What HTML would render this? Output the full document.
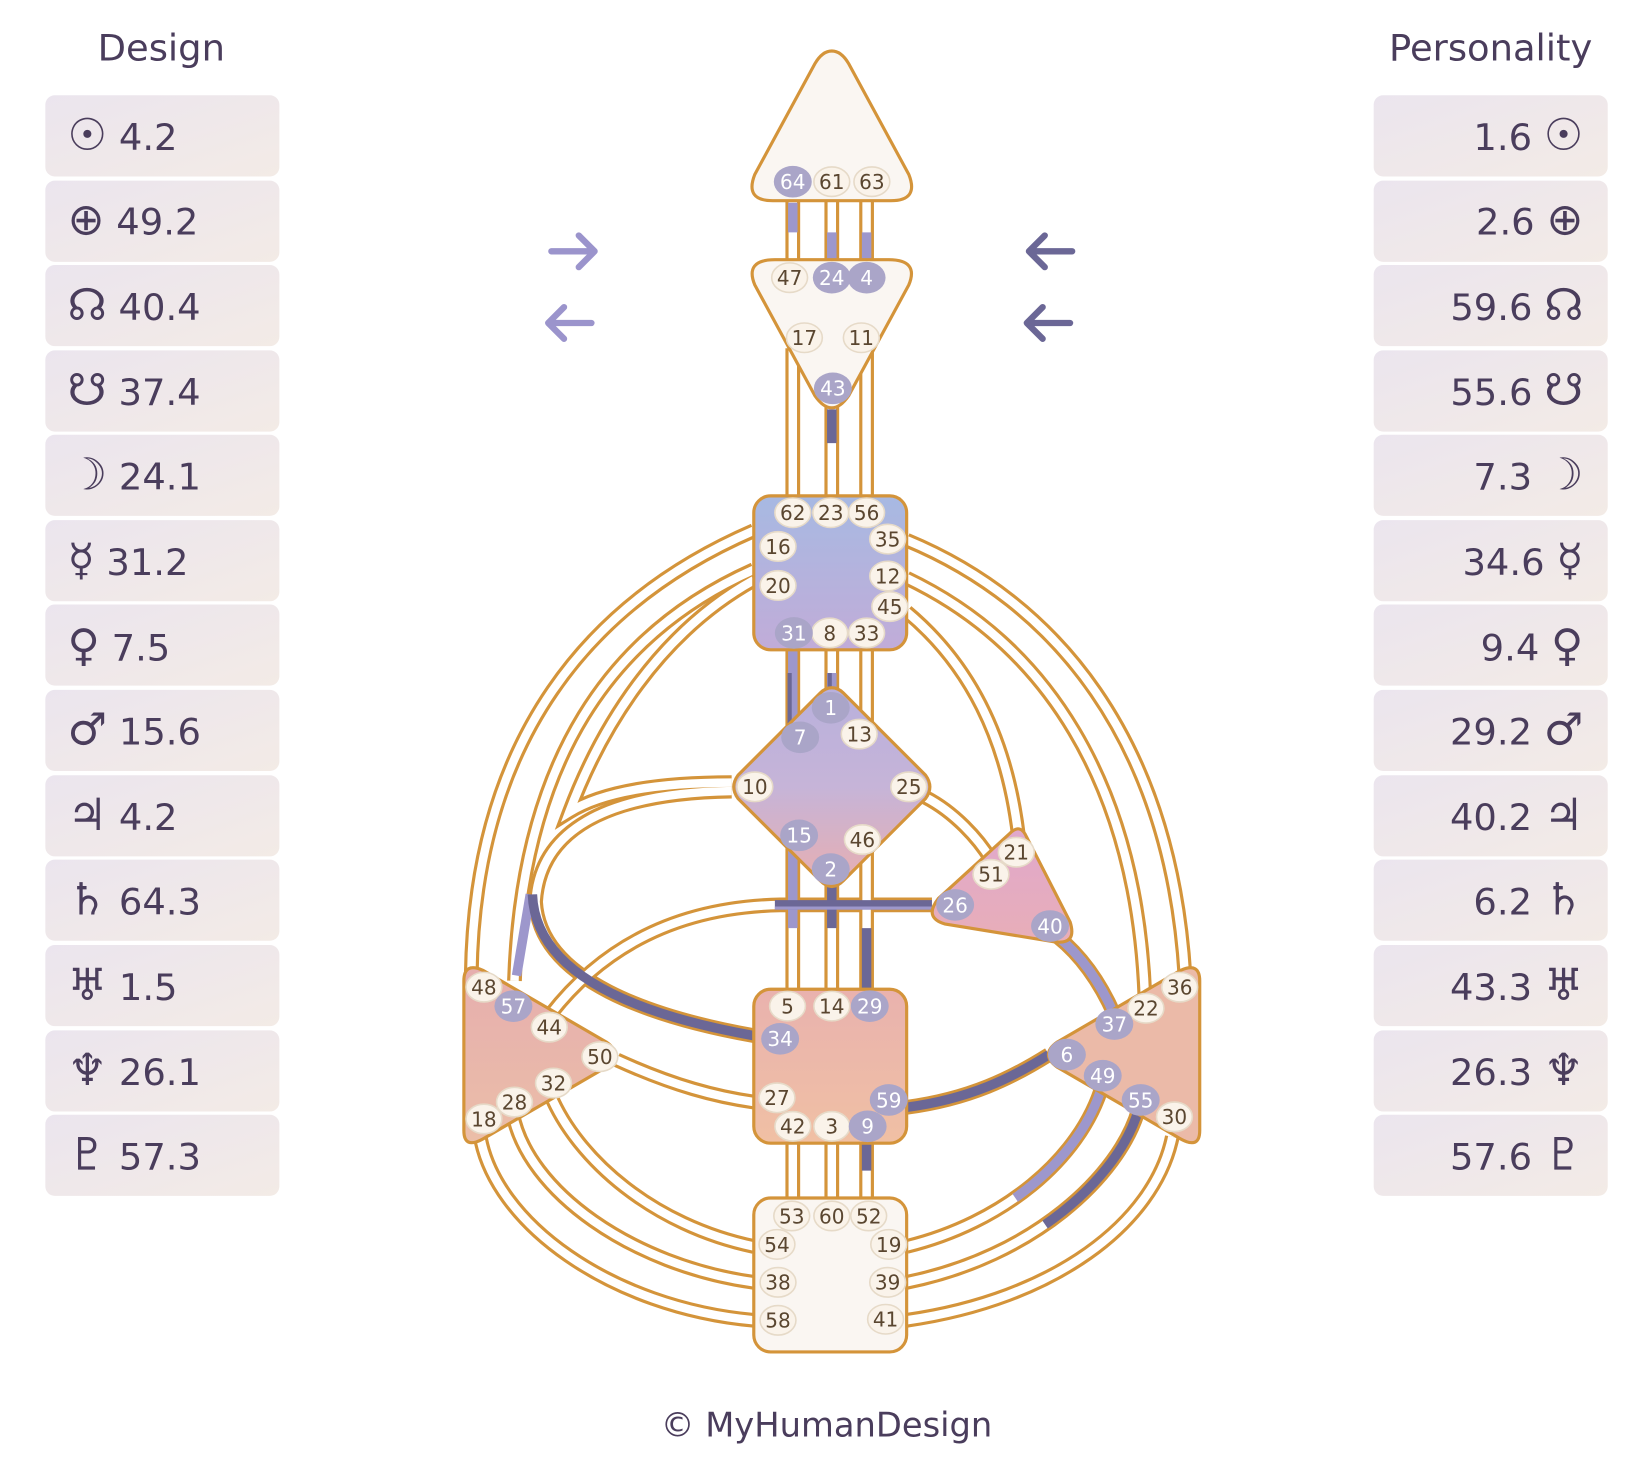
<!DOCTYPE html>
<html><head><meta charset="utf-8"><style>
html,body{margin:0;padding:0;background:#fff}
svg{display:block}
text{font-family:"DejaVu Sans","Liberation Sans",sans-serif}
.s{font-size:42px}
</style></head><body>
<svg width="1652" height="1463" viewBox="0 0 1567 1387" xmlns="http://www.w3.org/2000/svg">
<defs>
<linearGradient id="box" x1="0" y1="0" x2="1" y2="1"><stop offset="0" stop-color="#ebe5ee"/><stop offset="1" stop-color="#f3ebe6"/></linearGradient>
<linearGradient id="thr" x1="0" y1="0" x2="0" y2="1"><stop offset="0" stop-color="#a7b9e2"/><stop offset="1" stop-color="#c1acd8"/></linearGradient>
<linearGradient id="gc" x1="0" y1="0" x2="0" y2="1"><stop offset="0" stop-color="#b8b0dc"/><stop offset="0.5" stop-color="#c6b4d8"/><stop offset="1" stop-color="#e8aeb0"/></linearGradient>
<linearGradient id="sac" x1="0" y1="0" x2="0" y2="1"><stop offset="0" stop-color="#e9b2ae"/><stop offset="1" stop-color="#f0c0a4"/></linearGradient>
<linearGradient id="spl" x1="0" y1="0" x2="0" y2="1"><stop offset="0" stop-color="#e6aeae"/><stop offset="1" stop-color="#ebbea8"/></linearGradient>
<linearGradient id="hrt" x1="0" y1="0" x2="0" y2="1"><stop offset="0" stop-color="#e0a8cc"/><stop offset="1" stop-color="#e8aeb8"/></linearGradient>
</defs>

<text x="153" y="57" font-size="35" fill="#4a3d5c" text-anchor="middle">Design</text>
<text x="1414" y="57" font-size="35" fill="#4a3d5c" text-anchor="middle">Personality</text>

<g fill="url(#box)">
<rect x="43" y="90" width="222" height="77" rx="9"/><rect x="43" y="171" width="222" height="77" rx="9"/><rect x="43" y="251" width="222" height="77" rx="9"/><rect x="43" y="332" width="222" height="77" rx="9"/><rect x="43" y="412" width="222" height="77" rx="9"/><rect x="43" y="493" width="222" height="77" rx="9"/><rect x="43" y="573" width="222" height="77" rx="9"/><rect x="43" y="654" width="222" height="77" rx="9"/><rect x="43" y="735" width="222" height="77" rx="9"/><rect x="43" y="815" width="222" height="77" rx="9"/><rect x="43" y="896" width="222" height="77" rx="9"/><rect x="43" y="977" width="222" height="77" rx="9"/><rect x="43" y="1057" width="222" height="77" rx="9"/>
<rect x="1303" y="90" width="222" height="77" rx="9"/><rect x="1303" y="171" width="222" height="77" rx="9"/><rect x="1303" y="251" width="222" height="77" rx="9"/><rect x="1303" y="332" width="222" height="77" rx="9"/><rect x="1303" y="412" width="222" height="77" rx="9"/><rect x="1303" y="493" width="222" height="77" rx="9"/><rect x="1303" y="573" width="222" height="77" rx="9"/><rect x="1303" y="654" width="222" height="77" rx="9"/><rect x="1303" y="735" width="222" height="77" rx="9"/><rect x="1303" y="815" width="222" height="77" rx="9"/><rect x="1303" y="896" width="222" height="77" rx="9"/><rect x="1303" y="977" width="222" height="77" rx="9"/><rect x="1303" y="1057" width="222" height="77" rx="9"/>
</g>
<g font-size="35" fill="#4a3d5c">
<text x="64" y="142"><tspan class="s">☉</tspan> 4.2</text>
<text x="64" y="222"><tspan class="s">⊕</tspan> 49.2</text>
<text x="64" y="303"><tspan class="s">☊</tspan> 40.4</text>
<text x="64" y="384"><tspan class="s">☋</tspan> 37.4</text>
<text x="64" y="464"><tspan class="s">☽</tspan> 24.1</text>
<text x="64" y="545"><tspan class="s">☿</tspan> 31.2</text>
<text x="64" y="626"><tspan class="s">♀</tspan> 7.5</text>
<text x="64" y="706"><tspan class="s">♂</tspan> 15.6</text>
<text x="64" y="787"><tspan class="s">♃</tspan> 4.2</text>
<text x="64" y="867"><tspan class="s">♄</tspan> 64.3</text>
<text x="64" y="948"><tspan class="s">♅</tspan> 1.5</text>
<text x="64" y="1029"><tspan class="s">♆</tspan> 26.1</text>
<text x="64" y="1109"><tspan class="s">♇</tspan> 57.3</text>
</g>
<g font-size="35" fill="#4a3d5c" text-anchor="end">
<text x="1502" y="142">1.6 <tspan class="s">☉</tspan></text>
<text x="1502" y="222">2.6 <tspan class="s">⊕</tspan></text>
<text x="1502" y="303">59.6 <tspan class="s">☊</tspan></text>
<text x="1502" y="384">55.6 <tspan class="s">☋</tspan></text>
<text x="1502" y="464">7.3 <tspan class="s">☽</tspan></text>
<text x="1502" y="545">34.6 <tspan class="s">☿</tspan></text>
<text x="1502" y="626">9.4 <tspan class="s">♀</tspan></text>
<text x="1502" y="706">29.2 <tspan class="s">♂</tspan></text>
<text x="1502" y="787">40.2 <tspan class="s">♃</tspan></text>
<text x="1502" y="867">6.2 <tspan class="s">♄</tspan></text>
<text x="1502" y="948">43.3 <tspan class="s">♅</tspan></text>
<text x="1502" y="1029">26.3 <tspan class="s">♆</tspan></text>
<text x="1502" y="1109">57.6 <tspan class="s">♇</tspan></text>
</g>

<g fill="none" stroke-width="6" stroke-linecap="round" stroke-linejoin="round">
<path d="M523,238 H563 M549,223 L564,238 L549,253" stroke="#9b94cc"/>
<path d="M561,306 H521 M535,291 L520,306 L535,321" stroke="#9b94cc"/>
<path d="M1017,238 H977 M991,223 L976,238 L991,253" stroke="#6b6796"/>
<path d="M1015,306 H975 M989,291 L974,306 L989,321" stroke="#6b6796"/>
</g>

<g fill="none" stroke="#d4943a" stroke-width="14">
<path d="M752,190 V250"/><path d="M789,190 V250"/><path d="M822,190 V250"/>
<path d="M752,330 V472"/><path d="M789,380 V472"/><path d="M822,330 V472"/>
<path d="M752,614 V700"/><path d="M789,614 V660"/><path d="M822,614 V700"/>
<path d="M752,800 V940"/><path d="M789,830 V940"/><path d="M822,800 V940"/>
<path d="M752,1082 V1138"/><path d="M789,1082 V1138"/><path d="M822,1082 V1138"/>
<path d="M715,503 C560,570 450,700 447,925"/>
<path d="M715,540 C580,600 495,720 488,930"/>
<path d="M715,550 C625,600 570,690 540,770 Q585,742 694,742"/>
<path d="M694,750 C570,752 512,790 508,855 C512,930 620,965 715,982"/>
<path d="M884,858 L740,858 C640,860 570,900 522,962"/>
<path d="M585,1005 C640,1030 680,1040 715,1045"/>
<path d="M860,512 C1000,570 1110,700 1124,925"/>
<path d="M860,548 C990,610 1078,740 1086,945"/>
<path d="M860,580 C920,630 955,700 966,792"/>
<path d="M878,756 C905,770 928,795 940,815"/>
<path d="M1003,888 C1028,908 1045,935 1057,962"/>
<path d="M860,1050 C920,1042 960,1022 995,1000"/>
<path d="M860,1182 C950,1160 1025,1100 1046,1028"/>
<path d="M860,1216 C980,1192 1062,1115 1080,1052"/>
<path d="M860,1252 C1000,1232 1095,1160 1112,1078"/>
<path d="M715,1182 C620,1162 548,1100 522,1038"/>
<path d="M715,1216 C600,1200 500,1130 486,1055"/>
<path d="M715,1252 C580,1240 468,1160 455,1075"/>
</g>
<g fill="none" stroke="#fff" stroke-width="8">
<path d="M752,190 V250"/><path d="M789,190 V250"/><path d="M822,190 V250"/>
<path d="M752,330 V472"/><path d="M789,380 V472"/><path d="M822,330 V472"/>
<path d="M752,614 V700"/><path d="M789,614 V660"/><path d="M822,614 V700"/>
<path d="M752,800 V940"/><path d="M789,830 V940"/><path d="M822,800 V940"/>
<path d="M752,1082 V1138"/><path d="M789,1082 V1138"/><path d="M822,1082 V1138"/>
<path d="M715,503 C560,570 450,700 447,925"/>
<path d="M715,540 C580,600 495,720 488,930"/>
<path d="M715,550 C625,600 570,690 540,770 Q585,742 694,742"/>
<path d="M694,750 C570,752 512,790 508,855 C512,930 620,965 715,982"/>
<path d="M884,858 L740,858 C640,860 570,900 522,962"/>
<path d="M585,1005 C640,1030 680,1040 715,1045"/>
<path d="M860,512 C1000,570 1110,700 1124,925"/>
<path d="M860,548 C990,610 1078,740 1086,945"/>
<path d="M860,580 C920,630 955,700 966,792"/>
<path d="M878,756 C905,770 928,795 940,815"/>
<path d="M1003,888 C1028,908 1045,935 1057,962"/>
<path d="M860,1050 C920,1042 960,1022 995,1000"/>
<path d="M860,1182 C950,1160 1025,1100 1046,1028"/>
<path d="M860,1216 C980,1192 1062,1115 1080,1052"/>
<path d="M860,1252 C1000,1232 1095,1160 1112,1078"/>
<path d="M715,1182 C620,1162 548,1100 522,1038"/>
<path d="M715,1216 C600,1200 500,1130 486,1055"/>
<path d="M715,1252 C580,1240 468,1160 455,1075"/>
</g>
<g fill="none" stroke-width="9">
<path d="M752,192 V220" stroke="#9d97cc"/>
<path d="M789,220 V248" stroke="#9d97cc"/>
<path d="M822,220 V248" stroke="#9d97cc"/>
<path d="M789,388 V420" stroke="#6b6796"/>
<path d="M752,616 V700" stroke="#9d97cc"/>
<path d="M749,638 V690" stroke="#6b6796" stroke-width="4"/>
<path d="M789,638 V660" stroke="#9d97cc"/>
<path d="M787,638 V660" stroke="#6b6796" stroke-width="4"/>
<path d="M752,800 V880" stroke="#9d97cc"/>
<path d="M789,840 V880" stroke="#6b6796"/>
<path d="M822,880 V938" stroke="#6b6796"/>
<path d="M822,1084 V1110" stroke="#6b6796"/>
<path d="M503,848 L490,925" stroke="#9d97cc"/>
<path d="M505,848 C508,930 620,965 715,982" stroke="#6b6796"/>
<path d="M884,858 L735,858" stroke="#6b6796"/>
<path d="M884,861 L735,861" stroke="#9d97cc" stroke-width="3"/>
<path d="M1003,888 C1028,908 1045,935 1057,962" stroke="#9d97cc"/>
<path d="M860,1050 C920,1042 960,1022 995,1000" stroke="#6b6796"/>
<path d="M860,1182 C950,1160 1025,1100 1046,1028" stroke="#9d97cc" pathLength="100" stroke-dasharray="0 45 55"/>
<path d="M860,1216 C980,1192 1062,1115 1080,1052" stroke="#6b6796" pathLength="100" stroke-dasharray="0 50 50"/>
</g>

<g stroke="#d4943a" stroke-width="3" stroke-linejoin="round">
<path d="M789,48 Q798,48 805,60 L862,165 Q872,190 845,190 L733,190 Q706,190 716,165 L773,60 Q780,48 789,48Z" fill="#faf6f2"/>
<path d="M735,246 L843,246 Q872,246 862,270 L805,375 Q789,398 773,375 L716,270 Q706,246 735,246Z" fill="#faf6f2"/>
<rect x="715" y="470" width="145" height="146" rx="16" fill="url(#thr)"/>
<path d="M789,652 Q795,652 800,657 L878,735 Q886,746 878,757 L800,835 Q789,846 778,835 L700,757 Q692,746 700,735 L778,657 Q783,652 789,652Z" fill="url(#gc)"/>
<path d="M958,790 Q968,780 974,794 L1015,874 Q1022,896 1000,893 L896,876 Q876,870 890,852Z" fill="url(#hrt)"/>
<path d="M440,930 Q440,912 458,920 L575,988 Q592,1000 575,1012 L458,1080 Q440,1090 440,1072Z" fill="url(#spl)"/>
<path d="M1138,930 Q1138,912 1120,920 L1003,988 Q986,1000 1003,1012 L1120,1080 Q1138,1090 1138,1072Z" fill="#ebbaa8"/>
<rect x="715" y="938" width="145" height="146" rx="16" fill="url(#sac)"/>
<rect x="715" y="1136" width="145" height="146" rx="16" fill="#faf6f2"/>
</g>

<g font-size="19" text-anchor="middle">
<g fill="#faf3ea" stroke="#e6dac8" stroke-width="1.5">
<ellipse cx="789" cy="172" rx="17" ry="14"/><ellipse cx="827" cy="172" rx="17" ry="14"/>
<ellipse cx="749" cy="263" rx="17" ry="14"/><ellipse cx="763" cy="320" rx="17" ry="14"/><ellipse cx="817" cy="320" rx="17" ry="14"/>
<ellipse cx="752" cy="486" rx="17" ry="14"/><ellipse cx="788" cy="486" rx="17" ry="14"/><ellipse cx="822" cy="486" rx="17" ry="14"/>
<ellipse cx="738" cy="518" rx="17" ry="14"/><ellipse cx="842" cy="511" rx="17" ry="14"/><ellipse cx="738" cy="555" rx="17" ry="14"/><ellipse cx="842" cy="546" rx="17" ry="14"/><ellipse cx="844" cy="575" rx="17" ry="14"/>
<ellipse cx="787" cy="600" rx="17" ry="14"/><ellipse cx="822" cy="600" rx="17" ry="14"/>
<ellipse cx="815" cy="696" rx="17" ry="14"/><ellipse cx="716" cy="746" rx="17" ry="14"/><ellipse cx="862" cy="746" rx="17" ry="14"/><ellipse cx="818" cy="796" rx="17" ry="14"/>
<ellipse cx="964" cy="808" rx="17" ry="14"/><ellipse cx="940" cy="829" rx="17" ry="14"/>
<ellipse cx="459" cy="936" rx="17" ry="14"/><ellipse cx="521" cy="974" rx="17" ry="14"/><ellipse cx="569" cy="1002" rx="17" ry="14"/><ellipse cx="525" cy="1027" rx="17" ry="14"/><ellipse cx="488" cy="1045" rx="17" ry="14"/><ellipse cx="459" cy="1061" rx="17" ry="14"/>
<ellipse cx="1119" cy="936" rx="17" ry="14"/><ellipse cx="1087" cy="956" rx="17" ry="14"/><ellipse cx="1114" cy="1059" rx="17" ry="14"/>
<ellipse cx="747" cy="954" rx="17" ry="14"/><ellipse cx="789" cy="954" rx="17" ry="14"/><ellipse cx="737" cy="1041" rx="17" ry="14"/><ellipse cx="752" cy="1068" rx="17" ry="14"/><ellipse cx="789" cy="1068" rx="17" ry="14"/>
<ellipse cx="751" cy="1153" rx="17" ry="14"/><ellipse cx="789" cy="1153" rx="17" ry="14"/><ellipse cx="824" cy="1153" rx="17" ry="14"/><ellipse cx="737" cy="1180" rx="17" ry="14"/><ellipse cx="843" cy="1180" rx="17" ry="14"/><ellipse cx="738" cy="1216" rx="17" ry="14"/><ellipse cx="842" cy="1216" rx="17" ry="14"/><ellipse cx="738" cy="1252" rx="17" ry="14"/><ellipse cx="840" cy="1251" rx="17" ry="14"/>
</g>
<g fill="#aaa5c8">
<ellipse cx="752" cy="172" rx="18" ry="15"/><ellipse cx="789" cy="263" rx="18" ry="15"/><ellipse cx="822" cy="263" rx="18" ry="15"/><ellipse cx="790" cy="368" rx="18" ry="15"/>
<ellipse cx="753" cy="600" rx="18" ry="15"/><ellipse cx="788" cy="671" rx="18" ry="15"/><ellipse cx="759" cy="699" rx="18" ry="15"/><ellipse cx="758" cy="792" rx="18" ry="15"/><ellipse cx="788" cy="824" rx="18" ry="15"/>
<ellipse cx="906" cy="858" rx="18" ry="15"/><ellipse cx="996" cy="878" rx="18" ry="15"/>
<ellipse cx="487" cy="954" rx="18" ry="15"/>
<ellipse cx="1057" cy="971" rx="18" ry="15"/><ellipse cx="1012" cy="1000" rx="18" ry="15"/><ellipse cx="1046" cy="1020" rx="18" ry="15"/><ellipse cx="1082" cy="1043" rx="18" ry="15"/>
<ellipse cx="825" cy="954" rx="18" ry="15"/><ellipse cx="740" cy="985" rx="18" ry="15"/><ellipse cx="843" cy="1043" rx="18" ry="15"/><ellipse cx="823" cy="1068" rx="18" ry="15"/>
</g>
<g fill="#5a4630">
<text x="789" y="179">61</text><text x="827" y="179">63</text>
<text x="749" y="270">47</text><text x="763" y="327">17</text><text x="817" y="327">11</text>
<text x="752" y="493">62</text><text x="788" y="493">23</text><text x="822" y="493">56</text>
<text x="738" y="525">16</text><text x="842" y="518">35</text><text x="738" y="562">20</text><text x="842" y="553">12</text><text x="844" y="582">45</text>
<text x="787" y="607">8</text><text x="822" y="607">33</text>
<text x="815" y="703">13</text><text x="716" y="753">10</text><text x="862" y="753">25</text><text x="818" y="803">46</text>
<text x="964" y="815">21</text><text x="940" y="836">51</text>
<text x="459" y="943">48</text><text x="521" y="981">44</text><text x="569" y="1009">50</text><text x="525" y="1034">32</text><text x="488" y="1052">28</text><text x="459" y="1068">18</text>
<text x="1119" y="943">36</text><text x="1087" y="963">22</text><text x="1114" y="1066">30</text>
<text x="747" y="961">5</text><text x="789" y="961">14</text><text x="737" y="1048">27</text><text x="752" y="1075">42</text><text x="789" y="1075">3</text>
<text x="751" y="1160">53</text><text x="789" y="1160">60</text><text x="824" y="1160">52</text><text x="737" y="1187">54</text><text x="843" y="1187">19</text><text x="738" y="1223">38</text><text x="842" y="1223">39</text><text x="738" y="1259">58</text><text x="840" y="1258">41</text>
</g>
<g fill="#fff">
<text x="752" y="179">64</text><text x="789" y="270">24</text><text x="822" y="270">4</text><text x="790" y="375">43</text>
<text x="753" y="607">31</text><text x="788" y="678">1</text><text x="759" y="706">7</text><text x="758" y="799">15</text><text x="788" y="831">2</text>
<text x="906" y="865">26</text><text x="996" y="885">40</text>
<text x="487" y="961">57</text>
<text x="1057" y="978">37</text><text x="1012" y="1007">6</text><text x="1046" y="1027">49</text><text x="1082" y="1050">55</text>
<text x="825" y="961">29</text><text x="740" y="992">34</text><text x="843" y="1050">59</text><text x="823" y="1075">9</text>
</g>
</g>

<text x="784" y="1362" font-size="32" fill="#4a3d5c" text-anchor="middle">© MyHumanDesign</text>
</svg>
</body></html>
